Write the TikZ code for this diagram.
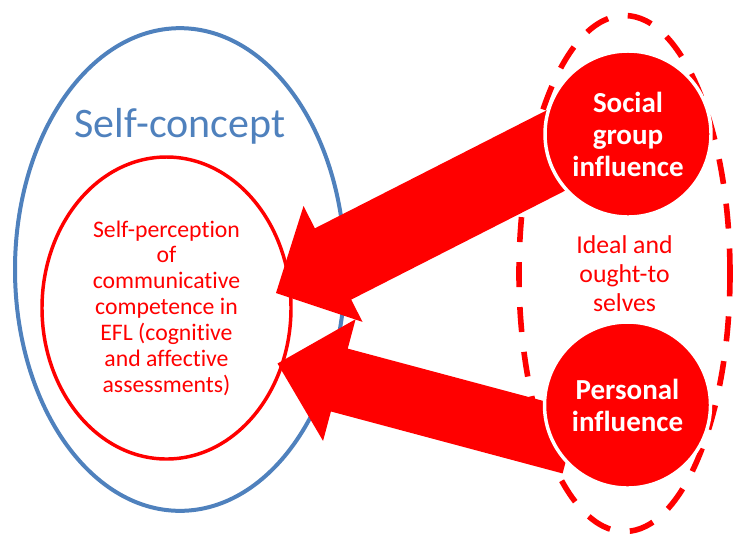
\documentclass[tikz,border=0pt]{standalone}
\usepackage{fontspec}
\setmainfont{Carlito}[Ligatures=NoCommon]
\usetikzlibrary{shapes,calc}

\definecolor{officeblue}{RGB}{79,129,189}
\definecolor{brightred}{RGB}{255,0,0}

\begin{document}
\begin{tikzpicture}[x=0.75pt,y=-0.75pt]
      \tikzstyle{outer}=[ellipse,draw=officeblue,line width=3pt,minimum width=247.5pt,minimum height=362pt]
      \tikzstyle{inner}=[ellipse,draw=brightred,line width=2.6pt,minimum width=186.75pt,minimum height=226.5pt,text=brightred,align=center,font=\fontsize{17.8}{19.4}\selectfont]
      \tikzstyle{selves}=[ellipse,draw=brightred,line width=4.2pt,dash pattern=on 18.75pt off 15pt,minimum width=158.25pt,minimum height=387pt,text=brightred,align=center,font=\fontsize{19.3}{22}\selectfont]
      \tikzstyle{infl}=[circle,draw=white,line width=2.6pt,fill=brightred,minimum size=124.5pt,inner sep=0pt,text=white,align=center,font=\fontsize{21.75}{24}\selectfont\bfseries]
      \useasboundingbox (0,0) rectangle (734,537);
      \node[outer] (selfc) at (180,269.5) {};
      \node[anchor=base,text=officeblue,font=\fontsize{31.5}{36}\selectfont] (selfclabel) at (180,137) {Self-concept};
      \node[inner] (percep) at (166.5,308) {Self-perception\\of\\communicative\\competence in\\EFL (cognitive\\and affective\\assessments)};
      \coordinate (stip) at (276,293);
      \coordinate (stail) at (600,128);
      \coordinate (ptip) at (277.5,363.5);
      \coordinate (ptail) at (571,442);
      \foreach \tip/\tail/\shaft/\head in {stip/stail/30pt/48.75pt, ptip/ptail/24.4pt/47.25pt} {
        \coordinate (base) at ($(\tip)!48pt!(\tail)$);
        \fill[brightred] (\tip) -- ($(base)!\head!90:(\tail)$) -- ($(base)!\shaft!90:(\tail)$)
          -- ($(\tail)!\shaft!-90:(base)$) -- ($(\tail)!\shaft!90:(base)$)
          -- ($(base)!\shaft!-90:(\tail)$) -- ($(base)!\head!-90:(\tail)$) -- cycle;
      }
      \node[selves] (ideal) at (624.5,273.5) {Ideal and\\ought-to\\selves};
      \node[infl] (social) at (628,134) {Social\\group\\influence};
      \node[infl] (personal) at (627.5,405) {Personal\\influence};
\end{tikzpicture}
\end{document}
